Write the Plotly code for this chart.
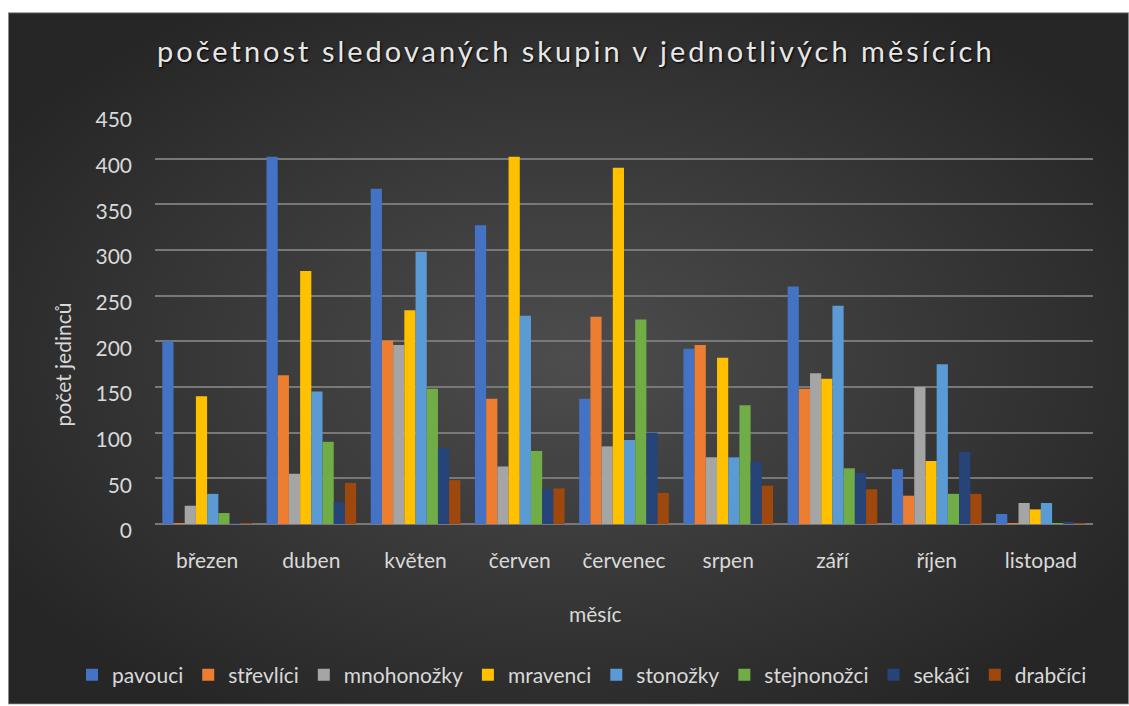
import plotly.graph_objects as go
import urllib.parse

# months on the x axis
mesice = ["březen", "duben", "květen", "červen", "červenec", "srpen", "září", "říjen", "listopad"]

# counts per group
pavouci = [200, 402, 367, 327, 137, 192, 260, 60, 11]
strevlici = [1, 163, 201, 137, 227, 196, 148, 31, 1]
mnohonozky = [20, 55, 196, 63, 85, 73, 165, 150, 23]
mravenci = [140, 277, 234, 402, 390, 182, 159, 69, 16]
stonozky = [33, 145, 298, 228, 92, 73, 239, 175, 23]
stejnonozci = [12, 90, 148, 80, 224, 130, 61, 33, 1]
sekaci = [1, 24, 83, 38, 100, 68, 56, 79, 2]
drabcici = [1, 45, 48, 39, 34, 42, 38, 33, 1]

serie = [
    ("pavouci", pavouci, "#4472C4"),
    ("střevlíci", strevlici, "#ED7D31"),
    ("mnohonožky", mnohonozky, "#A5A5A5"),
    ("mravenci", mravenci, "#FFC000"),
    ("stonožky", stonozky, "#5B9BD5"),
    ("stejnonožci", stejnonozci, "#70AD47"),
    ("sekáči", sekaci, "#264478"),
    ("drabčíci", drabcici, "#9E480E"),
]

W, H = 1129, 706
L, R, T, B = 155, 36, 113, 181
pw, ph = W - L - R, H - T - B

def px(x):  # pixel -> paper x
    return (x - L) / pw

def py(y):  # pixel -> paper y
    return (H - B - y) / ph

txt = "#d9d9d9"
font = "Lato, 'Open Sans', sans-serif"

fig = go.Figure()
for name, vals, col in serie:
    fig.add_trace(go.Bar(x=mesice, y=vals, name=name, marker=dict(color=col, line=dict(width=0))))

# dark radial background as svg
svg = (
    '<svg xmlns="http://www.w3.org/2000/svg" width="1121" height="694" viewBox="0 0 1121 694" preserveAspectRatio="none">'
    '<defs><radialGradient id="g" cx="50%" cy="50%" r="60%">'
    '<stop offset="0%" stop-color="#4d4d4d"/><stop offset="100%" stop-color="#262626"/>'
    '</radialGradient></defs>'
    '<rect x="0.5" y="0.5" width="1120" height="693" fill="url(#g)" stroke="#8a8a8a" stroke-width="1"/></svg>'
)
bg = "data:image/svg+xml;charset=utf-8," + urllib.parse.quote(svg)

fig.update_layout(
    width=W, height=H,
    margin=dict(l=L, r=R, t=T, b=B),
    paper_bgcolor="white",
    plot_bgcolor="rgba(0,0,0,0)",
    barmode="group",
    bargap=0.14,
    bargroupgap=0,
    font=dict(family=font, color=txt, size=21),
    images=[dict(source=bg, xref="paper", yref="paper", x=px(8), y=py(12),
                 sizex=(W - 8) / pw, sizey=(H - 12) / ph, sizing="stretch",
                 xanchor="left", yanchor="top", layer="below")],
    showlegend=True,
    legend=dict(orientation="h", x=px(72), xanchor="left", y=py(675), yanchor="middle",
                font=dict(size=21, color=txt), bgcolor="rgba(0,0,0,0)",
                itemwidth=30, tracegroupgap=0),
)

fig.update_yaxes(range=[0, 450], dtick=50, showgrid=True, gridcolor="#787878", gridwidth=2,
                 zeroline=True, zerolinecolor="#787878", zerolinewidth=2,
                 showline=False, ticklabelstandoff=22, ticklabelshift=7,
                 tickfont=dict(size=21, color=txt))
fig.update_xaxes(showgrid=False, showline=False, ticklabelstandoff=22,
                 tickfont=dict(size=21, color=txt))

fig.add_annotation(text='<span style="letter-spacing:3px">početnost sledovaných skupin v jednotlivých měsících</span>',
                   xref="paper", yref="paper", x=px(576), y=py(50), xanchor="center", yanchor="middle",
                   showarrow=False, font=dict(size=29, color="#e6e6e6", shadow="1px 1px 2px #000"))
fig.add_annotation(text="počet jedinců", textangle=-90, xref="paper", yref="paper",
                   x=px(62), y=py(365), xanchor="center", yanchor="middle",
                   showarrow=False, font=dict(size=21, color=txt))
fig.add_annotation(text="měsíc", xref="paper", yref="paper",
                   x=px(595), y=py(615), xanchor="center", yanchor="middle",
                   showarrow=False, font=dict(size=21, color=txt))

fig.write_html("out.html", config={"displayModeBar": False},
               post_script="document.body.style.margin='0';document.body.style.overflow='hidden';")
